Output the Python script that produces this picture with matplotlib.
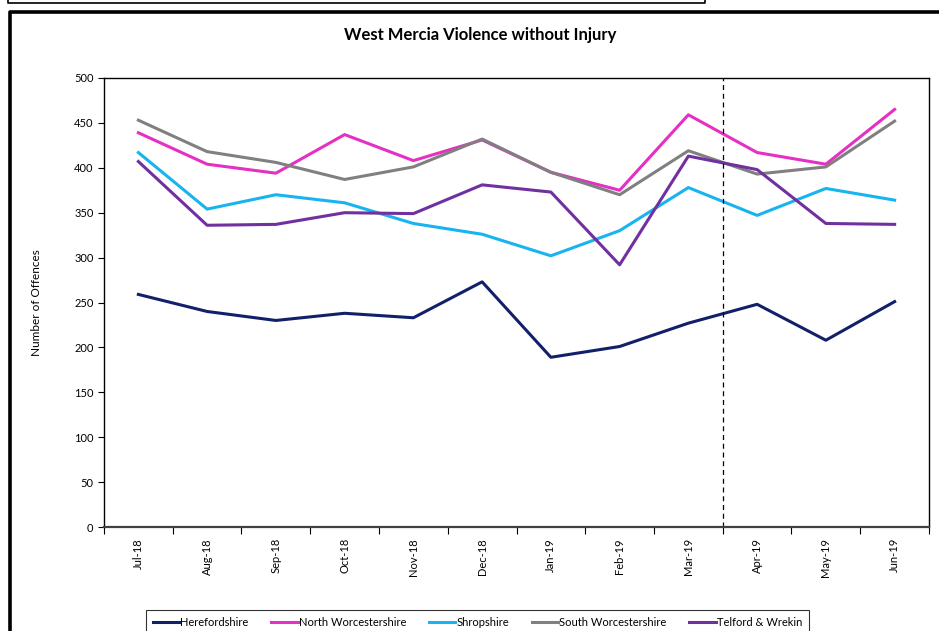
import matplotlib.pyplot as plt
from matplotlib.lines import Line2D
import numpy as np

months = ['Jul-18', 'Aug-18', 'Sep-18', 'Oct-18', 'Nov-18', 'Dec-18',
          'Jan-19', 'Feb-19', 'Mar-19', 'Apr-19', 'May-19', 'Jun-19']

herefordshire = [259, 240, 230, 238, 233, 273, 189, 201, 227, 248, 208, 251]
north_worcs = [439, 404, 394, 437, 408, 431, 395, 375, 459, 417, 404, 465]
shropshire = [417, 354, 370, 361, 338, 326, 302, 330, 378, 347, 377, 364]
south_worcs = [453, 418, 406, 387, 401, 432, 395, 370, 419, 393, 401, 452]
telford = [407, 336, 337, 350, 349, 381, 373, 292, 413, 398, 338, 337]

series = [
    ('Herefordshire', herefordshire, '#12206a'),
    ('North Worcestershire', north_worcs, '#e62fc3'),
    ('Shropshire', shropshire, '#17b4ef'),
    ('South Worcestershire', south_worcs, '#808080'),
    ('Telford & Wrekin', telford, '#7030a0'),
]

plt.rcParams['font.family'] = ['Lato', 'DejaVu Sans']

W, H = 939, 631
fig = plt.figure(figsize=(W / 100, H / 100), dpi=100)

# outer frames (figure pixel coords)
def fline(xs, ys, lw):
    fig.add_artist(Line2D([x / W for x in xs], [1 - y / H for y in ys],
                          color='black', lw=lw, transform=fig.transFigure))

fline([8, 8, 705, 705], [0, 2.5, 2.5, 0], 1.2)
fline([10, 10, 945], [640, 12, 12], 2.6)

ax = fig.add_axes([104 / W, 1 - 527 / H, (929 - 104) / W, (527 - 78) / H])

x = np.arange(len(months))
for name, vals, col in series:
    ax.plot(x, vals, color=col, lw=2.2, label=name)

ax.axvline(8.5, color='black', lw=0.9, ls=(0, (4, 3)))

ax.set_xlim(-0.5, len(months) - 0.5)
ax.set_ylim(0, 500)
ax.set_yticks(np.arange(0, 501, 50))
ax.set_xticks(np.arange(-0.5, len(months), 1))
ax.set_xticklabels([])
ax.set_xticks(x, minor=True)
ax.set_xticklabels(months, minor=True, rotation=90, fontsize=8)
ax.tick_params(axis='x', which='minor', length=0, pad=8)
ax.tick_params(axis='x', which='major', length=5, direction='out')
ax.tick_params(axis='y', labelsize=8, length=4, direction='out')
for s in ax.spines.values():
    s.set_linewidth(1.0)
ax.spines['bottom'].set_linewidth(1.6)
ax.spines['bottom'].set_color('#404040')

ax.set_ylabel('Number of Offences', fontsize=8.5)
ax.yaxis.set_label_coords(-62 / (929 - 104), 0.5)

fig.text(480 / W, 1 - 35 / H, 'West Mercia Violence without Injury',
         ha='center', va='center', fontsize=12, fontweight='bold')

leg = fig.legend(loc='upper left',
                 bbox_to_anchor=(146 / W, 1 - 640 / H, 663 / W, 30 / H),
                 mode='expand', ncol=5, fontsize=8, frameon=True,
                 fancybox=False, edgecolor='black', handlelength=2.4,
                 handletextpad=0.1, borderpad=0.6, borderaxespad=0)
leg.get_frame().set_linewidth(0.8)

fig.savefig('out.png', dpi=100)
